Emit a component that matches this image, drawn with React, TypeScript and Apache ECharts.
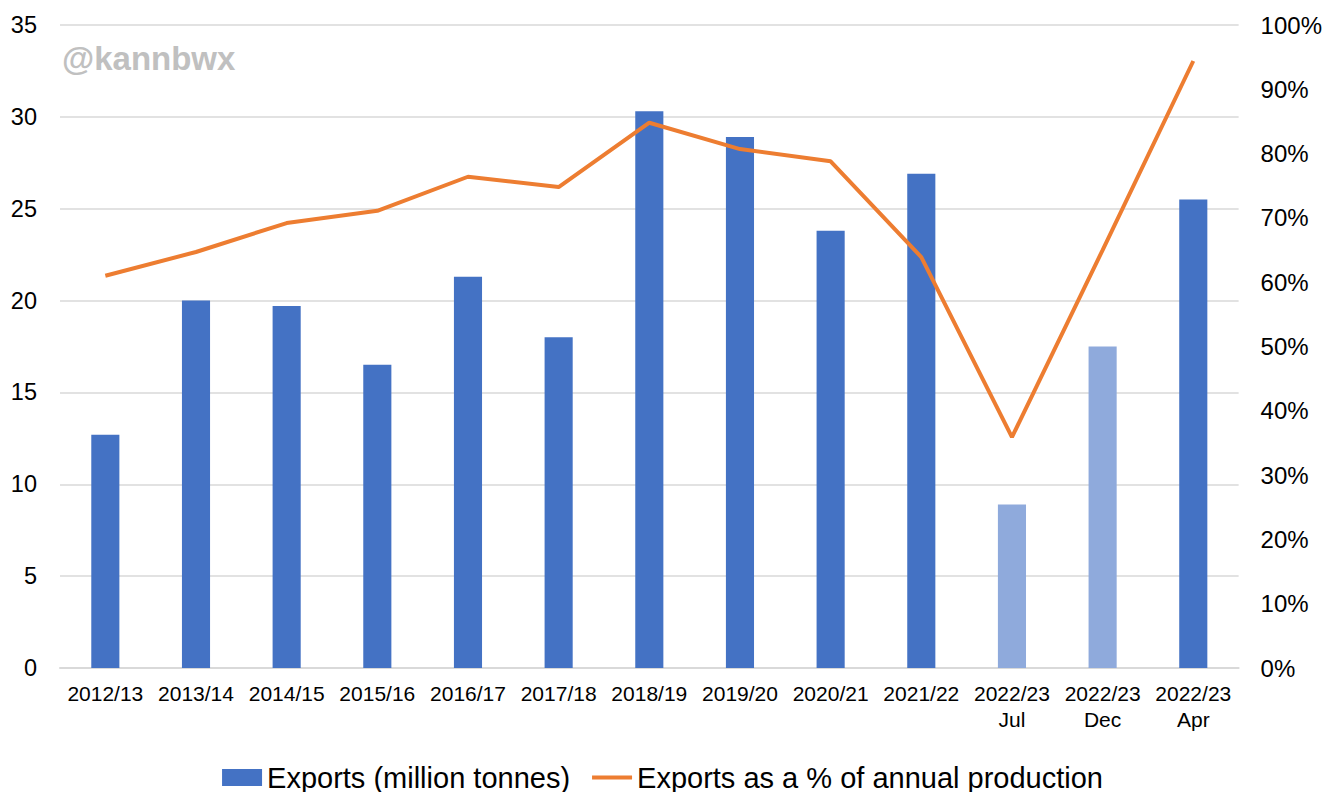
import React, { useEffect, useRef } from "react";
import * as echarts from "echarts";

const categories = [
  "2012/13", "2013/14", "2014/15", "2015/16", "2016/17", "2017/18",
  "2018/19", "2019/20", "2020/21", "2021/22", "2022/23\nJul", "2022/23\nDec", "2022/23\nApr",
];
const exportsMt = [12.7, 20.0, 19.7, 16.5, 21.3, 18.0, 30.3, 28.9, 23.8, 26.9, 8.9, 17.5, 25.5];
const forecastFlags = [false, false, false, false, false, false, false, false, false, false, true, true, false];
const exportShare = [61.0, 64.7, 69.2, 71.1, 76.4, 74.8, 84.8, 80.7, 78.8, 63.9, 35.9, 65.0, 94.4];

const BLUE = "#4472C4";
const LIGHT_BLUE = "#8FAADC";
const ORANGE = "#ED7D31";
const FONT = "'Liberation Sans', Arial, sans-serif";

export default function App() {
  const ref = useRef<HTMLDivElement>(null);
  useEffect(() => {
    const chart = echarts.init(ref.current!, null, { renderer: "svg" });
    chart.setOption({
      animation: false,
      backgroundColor: "#ffffff",
      textStyle: { fontFamily: FONT },
      graphic: [
        {
          type: "text",
          left: 62,
          top: 42,
          style: { text: "@kannbwx", fill: "#c0c0c0", font: `bold 33px ${FONT}` },
        },
      ],
      legend: {
        top: 758,
        left: "center",
        itemWidth: 40,
        itemHeight: 17,
        itemGap: 20,
        textStyle: { fontSize: 29, color: "#000", fontFamily: FONT },
        data: [
          { name: "Exports (million tonnes)", icon: "rect" },
          {
            name: "Exports as a % of annual production",
            itemStyle: { opacity: 0 },
            lineStyle: { width: 4, color: ORANGE },
          },
        ],
      },
      grid: { left: 60, right: 85, top: 25, bottom: 124, containLabel: false },
      xAxis: {
        type: "category",
        data: categories,
        axisLine: { lineStyle: { color: "#d9d9d9", width: 2 } },
        axisTick: { show: false },
        axisLabel: { color: "#000", fontSize: 21, lineHeight: 26, margin: 12, interval: 0, fontFamily: FONT },
      },
      yAxis: [
        {
          type: "value",
          min: 0,
          max: 35,
          interval: 5,
          axisLine: { show: false },
          axisTick: { show: false },
          splitLine: { lineStyle: { color: "#d9d9d9", width: 1.5 } },
          axisLabel: { color: "#000", fontSize: 23.5, margin: 23, fontFamily: FONT },
        },
        {
          type: "value",
          min: 0,
          max: 100,
          interval: 10,
          axisLine: { show: false },
          axisTick: { show: false },
          splitLine: { show: false },
          axisLabel: { color: "#000", fontSize: 24, margin: 22, formatter: "{value}%", fontFamily: FONT },
        },
      ],
      series: [
        {
          name: "Exports (million tonnes)",
          type: "bar",
          barWidth: "31%",
          itemStyle: { color: BLUE },
          data: exportsMt.map((v, i) => ({
            value: v,
            itemStyle: { color: forecastFlags[i] ? LIGHT_BLUE : BLUE },
          })),
        },
        {
          name: "Exports as a % of annual production",
          type: "line",
          yAxisIndex: 1,
          data: exportShare,
          symbol: "none",
          lineStyle: { color: ORANGE, width: 4 },
          itemStyle: { color: ORANGE },
        },
      ],
    });
    return () => chart.dispose();
  }, []);
  return (
    <div
      ref={ref}
      style={{ position: "fixed", left: 0, top: 0, width: 1325, height: 792 }}
    />
  );
}
